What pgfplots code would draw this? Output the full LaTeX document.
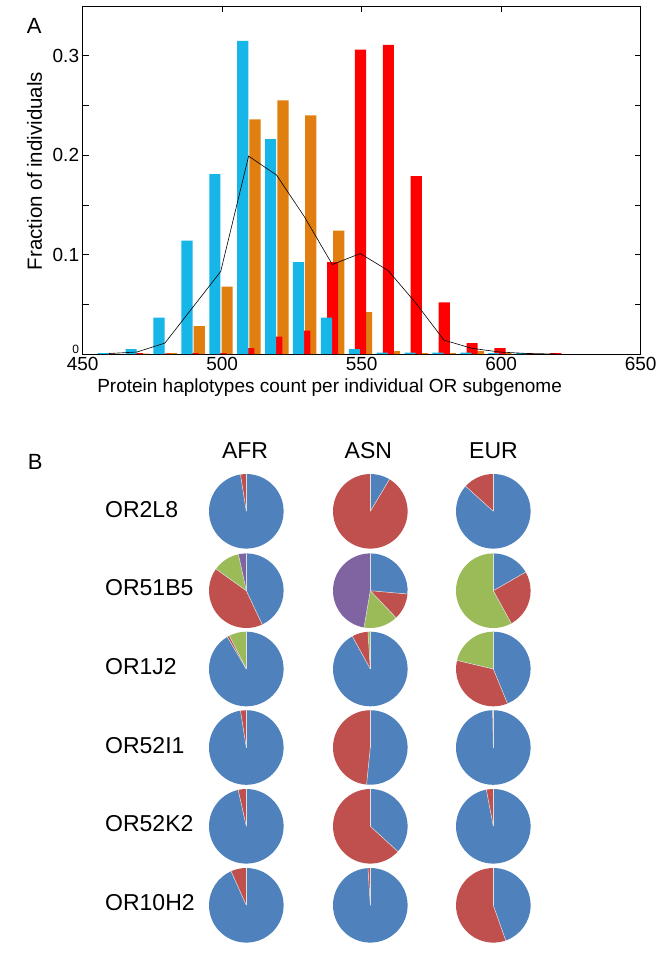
\documentclass[border=0pt]{standalone}
\usepackage{fontspec}
\setmainfont{Liberation Sans}
\usepackage{pgfplots}
\pgfplotsset{compat=1.18}
\definecolor{cblue}{RGB}{22,182,232}
\definecolor{corange}{RGB}{224,126,16}
\definecolor{cred}{RGB}{255,0,0}
\definecolor{pie1}{RGB}{79,129,189}
\definecolor{pie2}{RGB}{192,80,77}
\definecolor{pie3}{RGB}{155,187,89}
\definecolor{pie4}{RGB}{128,100,162}

\pgfplotstableread{
x y
457.4 0.001
467.4 0.005
477.4 0.0365
487.4 0.114
497.4 0.181
507.4 0.315
517.4 0.216
527.4 0.0925
537.4 0.0365
547.4 0.005
557.4 0.0015
567.4 0.0015
577.4 0.0015
587.4 0.0015
597.4 0.001
607.4 0.001
}\blueT
\pgfplotstableread{
x y
471.8 0.0005
481.8 0.001
491.8 0.028
501.8 0.0677
511.8 0.236
521.8 0.255
531.8 0.240
541.8 0.124
551.8 0.042
561.8 0.003
571.8 0.001
581.8 0.001
591.8 0.003
601.8 0.001
}\orangeT
\pgfplotstableread{
x y
459.6 0.0005
469.6 0.001
479.6 0.0005
489.6 0.001
499.6 0.001
509.6 0.006
519.6 0.0174
529.6 0.0235
539.6 0.0925
549.6 0.306
559.6 0.311
569.6 0.179
579.6 0.052
589.6 0.011
599.6 0.006
609.6 0.001
619.6 0.001
}\redT
\pgfplotstableread{
x y
459.5 0.0005
469.5 0.002
479.5 0.011
489.5 0.047
499.5 0.083
509.5 0.199
519.5 0.180
529.5 0.138
539.5 0.090
549.5 0.101
559.5 0.084
569.5 0.051
579.5 0.014
589.5 0.0057
599.5 0.002
609.5 0.0005
619.5 0.0
}\lineT

\newcommand\pie[3]{%
  \gdef\pacc{0}%
  \foreach \v [count=\i] in {#3}{%
    \pgfmathsetmacro\sa{90-360*\pacc}%
    \pgfmathsetmacro\ea{90-360*(\pacc+\v)}%
    \fill[pie\i] (axis cs:#1,-#2) -- ++(\sa:37.3pt) arc[start angle=\sa,end angle=\ea,radius=37.3pt] -- cycle;
    \pgfmathsetmacro\tmp{\pacc+\v}\xdef\pacc{\tmp}}%
  \gdef\pacc{0}%
  \foreach \v in {#3}{%
    \pgfmathsetmacro\sa{90-360*\pacc}%
    \draw[white!75!gray, line width=0.5pt] (axis cs:#1,-#2) -- ++(\sa:37.3pt);
    \pgfmathsetmacro\tmp{\pacc+\v}\xdef\pacc{\tmp}}%
}

\begin{document}
\begin{tikzpicture}
\path[use as bounding box, fill=white] (0,0) rectangle (665pt,-960pt);

\begin{axis}[
  at={(82.6pt,-354pt)}, anchor=south west,
  scale only axis, width=558pt, height=348pt,
  xmin=450, xmax=650, ymin=0, ymax=0.35,
  xtick={450,500,550,600,650},
  ytick={0,0.1,0.2,0.3},
  yticklabels={\raisebox{9pt}{\fontsize{12}{14}\selectfont 0},0.1,0.2,0.3},
  minor ytick={0.05,0.15,0.25},
  tick align=inside, major tick length=6pt, minor tick length=6pt,
  tick style={black, line width=0.6pt},
  axis line style={line width=0.9pt},
  ticklabel style={font=\fontsize{19}{22}\selectfont},
  /pgf/number format/assume math mode=true,
  xlabel={Protein haplotypes count per individual OR subgenome},
  xlabel style={font=\fontsize{19}{22}\selectfont, at={(axis description cs:0.4427,-0.0977)}, anchor=center},
  ylabel={Fraction of individuals},
  ylabel style={font=\fontsize{20.5}{24}\selectfont, at={(axis description cs:-0.086,0.526)}, anchor=center},
]
\addplot[ybar, bar width=4, bar shift=0pt, fill=corange, draw=none] table[x=x,y=y] {\orangeT};
\addplot[ybar, bar width=4, bar shift=0pt, fill=cred, draw=none] table[x=x,y=y] {\redT};
\addplot[ybar, bar width=4, bar shift=0pt, fill=cblue, draw=none] table[x=x,y=y] {\blueT};
\addplot[black, line width=0.6pt, mark=none, sharp plot] table[x=x,y=y] {\lineT};
\end{axis}

\begin{axis}[
  at={(0pt,-960pt)}, anchor=south west,
  scale only axis, width=665pt, height=960pt,
  xmin=0, xmax=665, ymin=-960, ymax=0,
  hide axis, clip=false,
]
\pgfplotsextra{%
\pie{246.3}{511.3}{0.975,0.025}
\pie{370.3}{511.3}{0.086,0.914}
\pie{493.3}{511.3}{0.867,0.133}
\pie{246.3}{590.7}{0.43,0.419,0.117,0.034}
\pie{370.3}{590.7}{0.264,0.115,0.148,0.473}
\pie{493.3}{590.7}{0.167,0.253,0.58}
\pie{246.3}{669}{0.915,0.01,0.075}
\pie{370.3}{669}{0.92,0.07,0.01}
\pie{493.3}{669}{0.438,0.349,0.213}
\pie{246.3}{747.5}{0.975,0.025}
\pie{370.3}{747.5}{0.516,0.484}
\pie{493.3}{747.5}{0.997,0.003}
\pie{246.3}{826.3}{0.965,0.035}
\pie{370.3}{826.3}{0.368,0.632}
\pie{493.3}{826.3}{0.97,0.03}
\pie{246.3}{905.3}{0.933,0.067}
\pie{370.3}{905.3}{0.99,0.01}
\pie{493.3}{905.3}{0.446,0.554}
}
\end{axis}

\node[font=\fontsize{22}{26}\selectfont, inner sep=0, anchor=center] at (34.2pt,-25.8pt) {A};
\node[font=\fontsize{22}{26}\selectfont, inner sep=0, anchor=center] at (35.2pt,-462pt) {B};
\foreach \lab/\xx in {AFR/245,ASN/368.3,EUR/493.5}
  \node[font=\fontsize{23}{27}\selectfont, inner sep=0, anchor=center] at (\xx pt,-451pt) {\lab};
\foreach \lab/\yy in {OR2L8/509.5,OR51B5/588,OR1J2/667,OR52I1/745.5,OR52K2/824,OR10H2/903}
  \node[font=\fontsize{23}{27}\selectfont, inner sep=0, anchor=west] at (105pt,-\yy pt) {\lab};
\end{tikzpicture}
\end{document}
